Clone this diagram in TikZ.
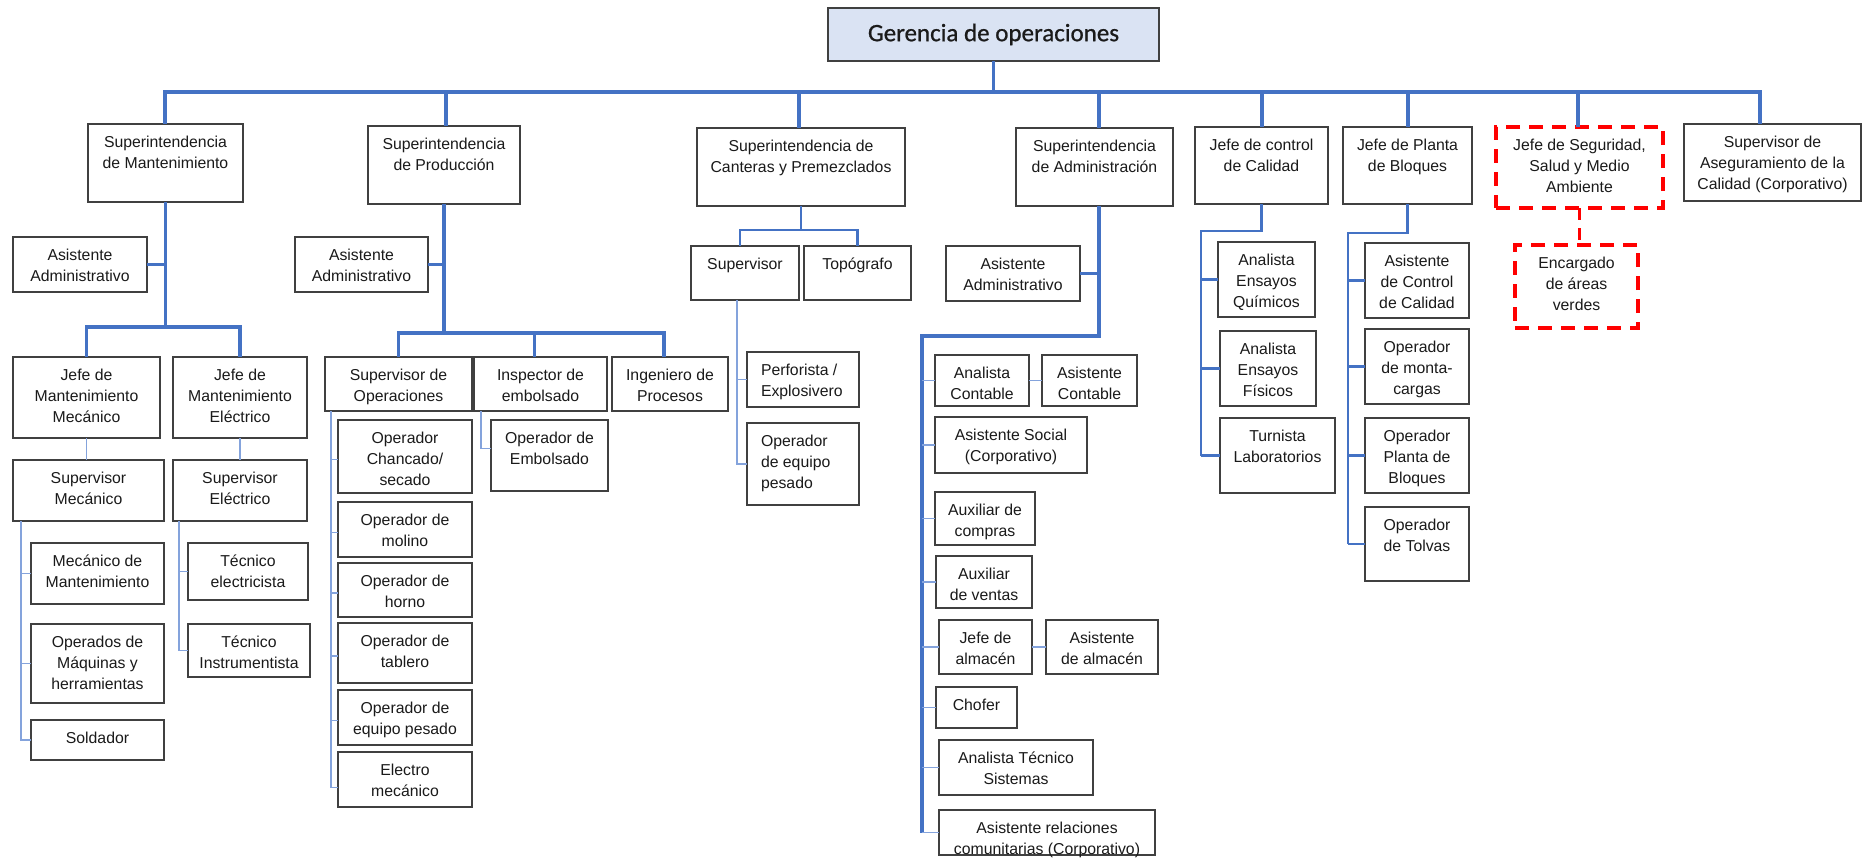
\documentclass[tikz,border=0pt]{standalone}
\usepackage{fontspec}
\setmainfont{Liberation Sans}
\newfontfamily\titlefont[FakeBold=0.8]{Carlito}
\usetikzlibrary{calc}

\definecolor{linkblue}{HTML}{4472C4}
\definecolor{lightlink}{HTML}{84A3DC}
\definecolor{boxline}{HTML}{404040}
\definecolor{headfill}{HTML}{DAE3F3}
\definecolor{ink}{HTML}{1A1A1A}
\definecolor{alertred}{HTML}{FF0000}

\tikzset{
  box/.style={draw=boxline, line width=1.6pt, inner sep=0pt, outer sep=0pt, fill=white},
  lbl/.style={inner sep=0pt, outer sep=0pt, align=center, text=ink,
              font=\fontsize{15.8pt}{21pt}\selectfont},
  lbll/.style={lbl, align=left},
  redbox/.style={draw=alertred, line width=3.6pt, dash pattern=on 14pt off 9pt},
  main/.style={draw=linkblue, line width=3.3pt},
  mid/.style={draw=linkblue, line width=2.6pt},
  fine/.style={draw=lightlink, line width=1.8pt},
  reddash/.style={draw=alertred, line width=3.6pt, dash pattern=on 12pt off 8pt},
}

% box from (x1,y1) to (x2,y2), text hanging from the top edge
\newcommand{\orgbox}[7][]{%
  \node[box,#1,anchor=north west,minimum width={(#5-#3)*1pt},minimum height={(#6-#4)*1pt}] (#2) at (#3,#4) {};
  \node[lbl,anchor=north] (#2-t) at ([yshift=-8.2pt]#2.north) {\rule{0pt}{15pt}#7};
}
% same, text set flush left
\newcommand{\orgboxl}[7][]{%
  \node[box,#1,anchor=north west,minimum width={(#5-#3)*1pt},minimum height={(#6-#4)*1pt}] (#2) at (#3,#4) {};
  \node[lbll,anchor=north west] (#2-t) at ([xshift=14pt,yshift=-8.2pt]#2.north west) {\rule{0pt}{15pt}#7};
}

\begin{document}
\begin{tikzpicture}[x=1pt,y=-1pt]
\fill[white] (0,0) rectangle (1863,865);
\useasboundingbox (0,0) rectangle (1863,865);

% ---------- head ----------
\node[box, fill=headfill, anchor=north west, minimum width=331pt, minimum height=53pt] (ger) at (828,8) {};
\node[inner sep=0pt, text=ink, font=\titlefont\fontsize{25pt}{30pt}\selectfont] (ger-t) at (ger.center) {Gerencia de operaciones};

% ---------- first level ----------
\orgbox{sm}{88}{124}{243}{202}{Superintendencia\\de Mantenimiento}
\orgbox{sp}{368}{126}{520}{204}{Superintendencia\\de Producción}
\orgbox{sc}{697}{128}{905}{206}{Superintendencia de\\Canteras y Premezclados}
\orgbox{sa}{1016}{128}{1173}{206}{Superintendencia\\de Administración}
\orgbox{jc}{1195}{127}{1328}{204}{Jefe de control\\de Calidad}
\orgbox{jp}{1343}{127}{1472}{204}{Jefe de Planta\\de Bloques}
\orgbox[redbox]{js}{1496}{127}{1663}{208}{Jefe de Seguridad,\\Salud y Medio\\Ambiente}
\orgbox{sq}{1684}{124}{1861}{201}{Supervisor de\\Aseguramiento de la\\Calidad (Corporativo)}

% ---------- mantenimiento ----------
\orgbox{sma}{13}{237}{147}{292}{Asistente\\Administrativo}
\orgbox{jm}{13}{357}{160}{438}{Jefe de\\Mantenimiento\\Mecánico}
\orgbox{je}{173}{357}{307}{438}{Jefe de\\Mantenimiento\\Eléctrico}
\orgbox{svm}{13}{460}{164}{521}{Supervisor\\Mecánico}
\orgbox{sve}{173}{460}{307}{521}{Supervisor\\Eléctrico}
\orgbox{mm}{31}{543}{164}{604}{Mecánico de\\Mantenimiento}
\orgbox{om}{31}{624}{164}{703}{Operados de\\Máquinas y\\herramientas}
\orgbox{sol}{31}{720}{164}{760}{Soldador}
\orgbox{te}{188}{543}{308}{600}{Técnico\\electricista}
\orgbox{ti}{188}{624}{310}{677}{Técnico\\Instrumentista}

% ---------- produccion ----------
\orgbox{spa}{295}{237}{428}{292}{Asistente\\Administrativo}
\orgbox{sop}{325}{357}{472}{411}{Supervisor de\\Operaciones}
\orgbox{ie}{474}{357}{607}{411}{Inspector de\\embolsado}
\orgbox{ip}{612}{357}{728}{411}{Ingeniero de\\Procesos}
\orgbox{oc}{338}{420}{472}{493}{Operador\\Chancado/\\secado}
\orgbox{omo}{338}{502}{472}{557}{Operador de\\molino}
\orgbox{oh}{338}{563}{472}{617}{Operador de\\horno}
\orgbox{ot}{338}{623}{472}{683}{Operador de\\tablero}
\orgbox{oe}{338}{690}{472}{745}{Operador de\\equipo pesado}
\orgbox{em}{338}{752}{472}{807}{Electro\\mecánico}
\orgbox{oemb}{491}{420}{608}{491}{Operador de\\Embolsado}

% ---------- canteras ----------
\orgbox{csu}{691}{246}{799}{300}{Supervisor}
\orgbox{cto}{804}{246}{911}{300}{Topógrafo}
\orgboxl{pe}{747}{352}{859}{407}{Perforista /\\Explosivero}
\orgboxl{oep}{747}{423}{859}{505}{Operador\\de equipo\\pesado}

% ---------- administracion ----------
\orgbox{aa}{946}{246}{1080}{301}{Asistente\\Administrativo}
\orgbox{ac}{935}{355}{1029}{406}{Analista\\Contable}
\orgbox{asc}{1042}{355}{1137}{406}{Asistente\\Contable}
\orgbox{aso}{935}{417}{1087}{473}{Asistente Social\\(Corporativo)}
\orgbox{ax1}{935}{492}{1035}{545}{Auxiliar de\\compras}
\orgbox{ax2}{936}{556}{1032}{608}{Auxiliar\\de ventas}
\orgbox{ja}{939}{620}{1032}{674}{Jefe de\\almacén}
\orgbox{asa}{1046}{620}{1158}{674}{Asistente\\de almacén}
\orgbox{ch}{936}{687}{1017}{728}{Chofer}
\orgbox{at}{939}{740}{1093}{795}{Analista Técnico\\Sistemas}
\orgbox{ar}{939}{810}{1155}{855}{Asistente relaciones\\comunitarias (Corporativo)}

% ---------- calidad ----------
\orgbox{q1}{1218}{242}{1315}{317}{Analista\\Ensayos\\Químicos}
\orgbox{q2}{1220}{331}{1316}{406}{Analista\\Ensayos\\Físicos}
\orgbox{q3}{1220}{418}{1335}{493}{Turnista\\Laboratorios}

% ---------- bloques ----------
\orgbox{b1}{1365}{243}{1469}{318}{Asistente\\de Control\\de Calidad}
\orgbox{b2}{1365}{329}{1469}{404}{Operador\\de monta-\\cargas}
\orgbox{b3}{1365}{418}{1469}{493}{Operador\\Planta de\\Bloques}
\orgbox{b4}{1365}{507}{1469}{581}{Operador\\de Tolvas}

% ---------- seguridad ----------
\orgbox[redbox]{ea}{1515}{245}{1638}{328}{Encargado\\de áreas\\verdes}

% ================= connectors =================
% main bar
\coordinate (dsm) at (165,92);
\coordinate (dsp) at (446,92);
\coordinate (dsc) at (799,92);
\coordinate (dsa) at (1099,92);
\coordinate (djc) at (1262,92);
\coordinate (djp) at (1408,92);
\coordinate (djs) at (1578,92);
\coordinate (dsq) at (1760,92);
\draw[main] (ger.south) -- (ger.south |- dsm);
\draw[main] (dsm |- sm.north) -- (dsm) -- (dsq) -- (dsq |- sq.north);
\foreach \d/\n in {dsp/sp,dsc/sc,dsa/sa,djc/jc,djp/jp,djs/js}
  \draw[main] (\d) -- (\d |- \n.north);

% mantenimiento
\coordinate (mK) at (sm.south |- 0,327);
\draw[main] (sm.south) -- (mK);
\draw[main] (jm.north) |- (mK) -| (je.north);
\draw[main] (sma.east) -- (sma.east -| mK);
\draw[fine] (jm.south) -- (jm.south |- svm.north);
\draw[fine] (je.south) -- (je.south |- sve.north);
\coordinate (svmT) at ([xshift=8pt]svm.south west);
\draw[fine] (svmT) |- (sol.west);
\draw[fine] (svmT |- mm.west) -- (mm.west);
\draw[fine] (svmT |- om.west) -- (om.west);
\coordinate (sveT) at ([xshift=6pt]sve.south west);
\draw[fine] (sveT) |- (ti.west);
\draw[fine] (sveT |- te.west) -- (te.west);

% produccion
\coordinate (pK) at (sp.south |- 0,333);
\draw[main] (sp.south) -- (pK);
\draw[main] (sop.north) |- (pK) -| ([xshift=-6pt]ip.north);
\draw[main] ([xshift=-6pt]ie.north) -- ([xshift=-6pt]ie.north |- pK);
\draw[main] (spa.east) -- (spa.east -| pK);
\coordinate (sopT) at ([xshift=6pt]sop.south west);
\draw[fine] (sopT) |- ([yshift=-8pt]em.west);
\foreach \n in {oc,omo,oh,ot,oe}{
  \coordinate (\n-in) at ([yshift=-3pt]\n.west);
  \draw[fine] (sopT |- \n-in) -- (\n-in);
}
\coordinate (ieT) at ([xshift=7pt]ie.south west);
\draw[fine] (ieT) |- ([yshift=7pt]oemb.west);

% canteras
\coordinate (cK) at (sc.south |- 0,230);
\draw[mid] (sc.south) -- (cK);
\draw[mid] ([xshift=-5pt]csu.north) |- (cK) -| (cto.north);
\coordinate (csuT) at ([xshift=46pt]csu.south west);
\draw[fine] (csuT) |- (oep.west);
\draw[fine] (csuT |- pe.west) -- (pe.west);

% administracion
\coordinate (aK) at (1099,336);
\coordinate (aT) at (922,336);
\draw[main] (aK |- sa.south) -- (aK) -- (aT) -- (aT |- ar.west);
\draw[main] (aa.east) -- (aa.east -| aK);
\foreach \n in {ac,aso,ax1,ax2,ja,ch,at,ar}
  \draw[fine] (aT |- \n.west) -- (\n.west);
\draw[fine] (ac.east) -- (asc.west);
\draw[fine] (ja.east) -- (asa.west);

% calidad
\coordinate (cqT) at (1201,231);
\draw[mid] (jc.south) |- (cqT) -- (cqT |- q3.west);
\foreach \n in {q1,q2,q3}
  \draw[mid] (cqT |- \n.west) -- (\n.west);

% bloques
\coordinate (bT) at (1348,233);
\draw[mid] (jp.south) |- (bT) -- (bT |- b4.west);
\foreach \n in {b1,b2,b3,b4}
  \draw[mid] (bT |- \n.west) -- (\n.west);

% seguridad
\draw[reddash] (js.south) -- (js.south |- ea.north);
\end{tikzpicture}
\end{document}
